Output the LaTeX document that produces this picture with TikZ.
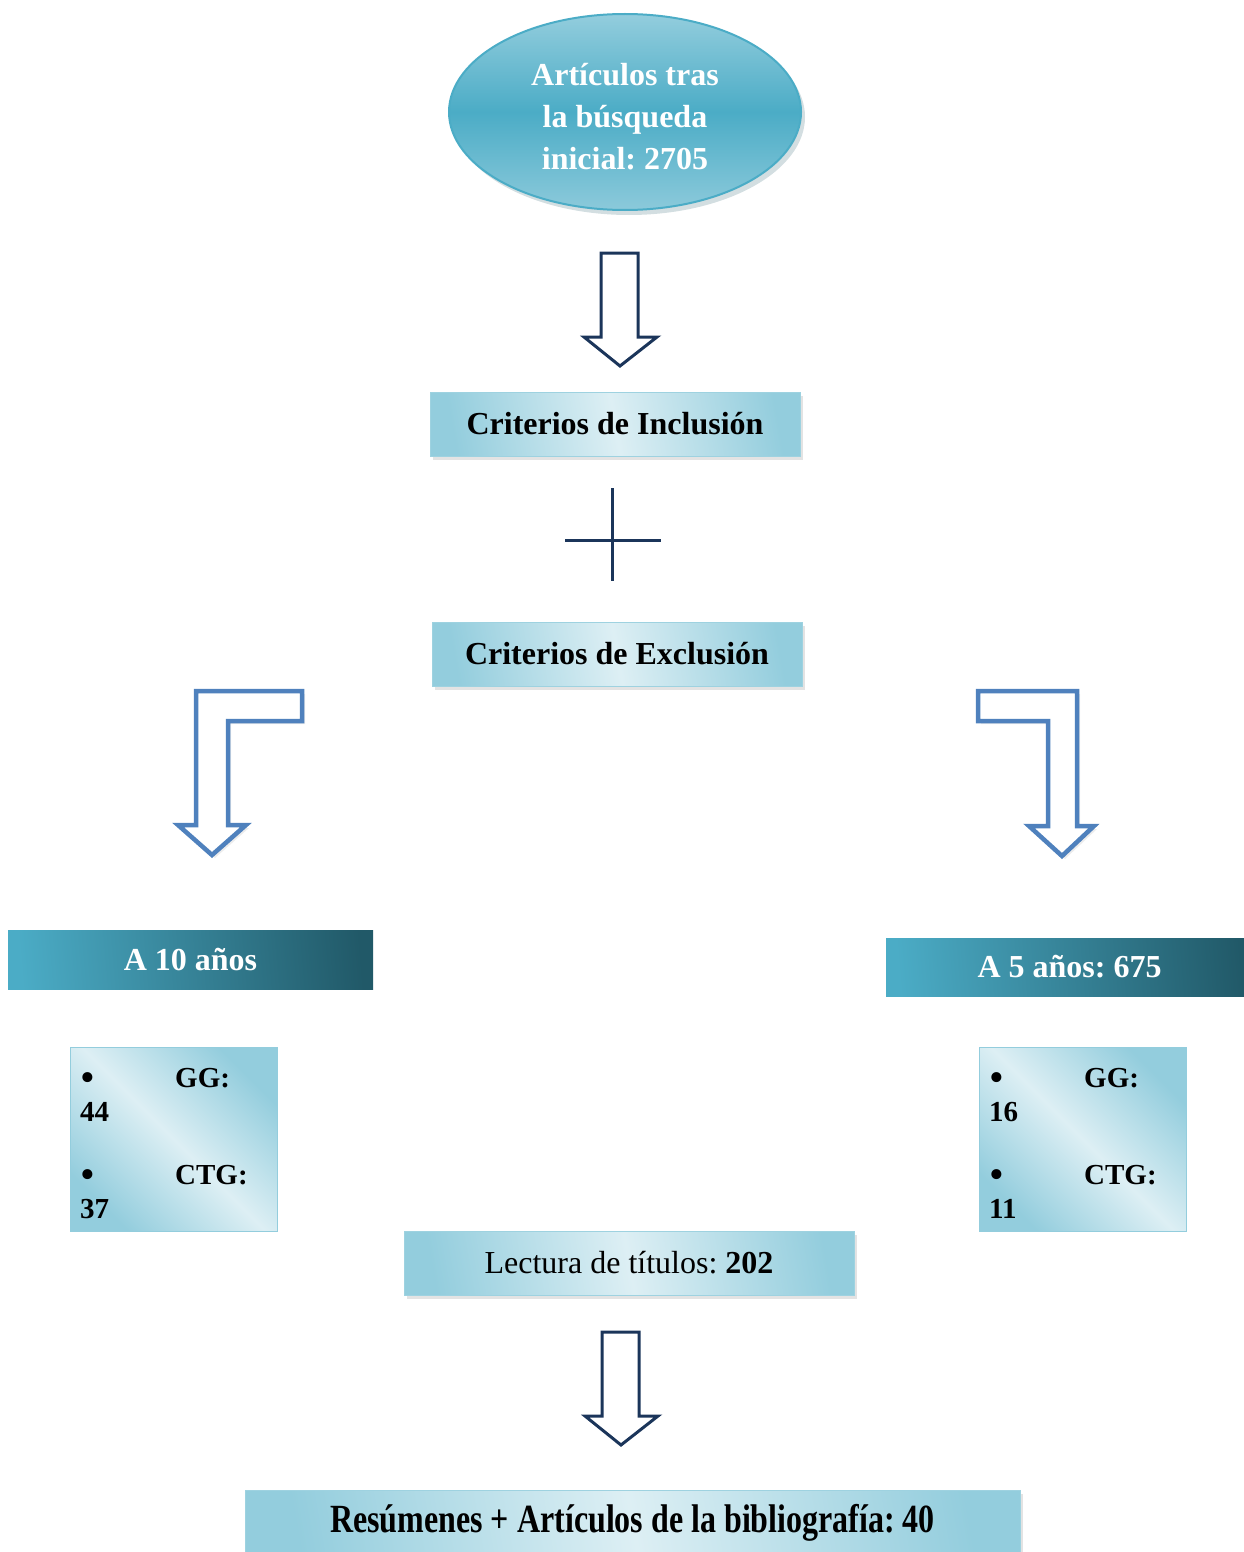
\documentclass[tikz,border=0pt]{standalone}
\usepackage{fontspec}
\setmainfont{Liberation Serif}
\usetikzlibrary{shapes.geometric,shadows}
\definecolor{lb}{HTML}{93CDDD}
\definecolor{vlb}{HTML}{DDEFF4}
\definecolor{tl}{HTML}{4BACC6}
\definecolor{dt}{HTML}{215968}
\definecolor{navy}{HTML}{1B355A}
\definecolor{ab}{HTML}{4F81BD}
\begin{document}
\frenchspacing
\begin{tikzpicture}[x=1pt,y=-1pt,
  softshadow/.style={drop shadow={opacity=0.22,shadow xshift=3pt,shadow yshift=-4pt}},
  lightbox/.style={rectangle,inner sep=0pt,left color=lb,right color=lb,middle color=vlb,shading angle=100,
    draw=lb!90,line width=0.8pt,softshadow,font=\fontsize{32}{38}\selectfont\bfseries},
  darkbox/.style={rectangle,inner sep=0pt,left color=tl,right color=dt,shading angle=95,
    text=white,font=\fontsize{32}{38}\selectfont\bfseries},
  smallbox/.style={rectangle,inner sep=0pt,left color=lb,right color=lb,middle color=vlb,shading angle=135,
    draw=lb,line width=1pt,minimum width=207pt,minimum height=184pt},
  smalltxt/.style={anchor=base west,inner sep=0pt,font=\fontsize{29}{34}\selectfont\bfseries},
  bullettxt/.style={anchor=base,inner sep=0pt,font=\fontsize{42}{34}\selectfont},
  navyarrow/.style={draw=navy,line width=3pt,line join=miter,fill=white},
  bluearrow/.style={draw=ab,line width=4.5pt,line join=miter,fill=white,
    drop shadow={opacity=0.15,shadow xshift=3pt,shadow yshift=-3pt}}
]
\useasboundingbox (0,0) rectangle (1244,1552);

% top ellipse
\node[ellipse,minimum width=352pt,minimum height=196pt,inner sep=0pt,
  top color=lb,bottom color=lb!90!tl,middle color=tl,draw=tl,line width=2pt,
  drop shadow={opacity=0.2,fill=dt,shadow xshift=4pt,shadow yshift=-5pt}] (start) at (625,112) {};
\node[text=white,align=center,inner sep=0pt,font=\fontsize{32}{42}\selectfont\bfseries] (starttxt) at (625,117)
  {Artículos tras\\la búsqueda\\inicial: 2705};

% first down arrow
\draw[navyarrow] (601,253) -- (638,253) -- (638,337) -- (657,337) -- (620,366) -- (584,337) -- (601,337) -- cycle;

\node[lightbox,minimum width=370pt,minimum height=64pt] (incl) at (615,424) {Criterios de Inclusión};

% plus sign
\draw[navy,line width=3pt] (612,488) -- (612,581);
\draw[navy,line width=3pt] (565,540) -- (661,540);

\node[lightbox,minimum width=370pt,minimum height=64pt] (excl) at (617,654) {Criterios de Exclusión};

% bent arrows
\draw[bluearrow] (196,691) -- (302,691) -- (302,721) -- (228,721) -- (228,825) -- (246,825)
  -- (212,855) -- (178,825) -- (196,825) -- cycle;
\draw[bluearrow] (1077,691) -- (978,691) -- (978,721) -- (1048,721) -- (1048,826) -- (1029,826)
  -- (1062,856) -- (1094,826) -- (1077,826) -- cycle;

\node[darkbox,minimum width=365pt,minimum height=59pt] (a10) at (190.5,959.5) {A 10 años};
\node[darkbox,minimum width=367pt,minimum height=58pt] (a5) at (1069.5,967) {A 5 años: 675};

% small boxes
\node[smallbox] (lbox) at (173.5,1139) {};
\node[bullettxt] (lb1) at (88,1091) {•};
\node[smalltxt] (lgg) at (175,1087) {GG:};
\node[smalltxt] (l44) at (80,1121) {44};
\node[bullettxt] (lb2) at (88,1188) {•};
\node[smalltxt] (lctg) at (175,1184) {CTG:};
\node[smalltxt] (l37) at (80,1218) {37};

\node[smallbox] (rbox) at (1082.5,1139) {};
\node[bullettxt] (rb1) at (997,1091) {•};
\node[smalltxt] (rgg) at (1084,1087) {GG:};
\node[smalltxt] (r16) at (989,1121) {16};
\node[bullettxt] (rb2) at (997,1188) {•};
\node[smalltxt] (rctg) at (1084,1184) {CTG:};
\node[smalltxt] (r11) at (989,1218) {11};

\node[lightbox,minimum width=450pt,minimum height=64pt,font=\fontsize{32}{38}\selectfont] (lect) at (629,1263)
  {Lectura de títulos: \textbf{202}};

% second down arrow
\draw[navyarrow] (602,1332) -- (639,1332) -- (639,1416) -- (658,1416) -- (621,1445) -- (585,1416) -- (602,1416) -- cycle;

\node[lightbox,minimum width=775pt,minimum height=66pt] (res) at (632.5,1523)
  {\scalebox{1}[1.25]{Resúmenes + Artículos de la bibliografía: 40}};
\end{tikzpicture}
\end{document}
